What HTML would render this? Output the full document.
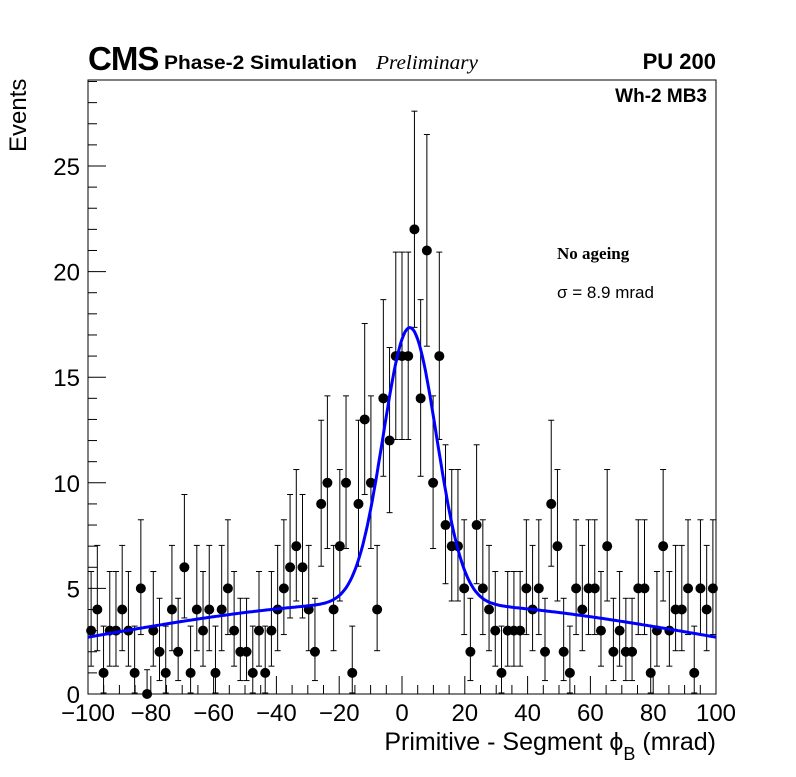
<!DOCTYPE html>
<html><head><meta charset="utf-8"><style>
body{margin:0;background:#fff;}
svg text{font-family:"Liberation Sans",sans-serif;}
</style></head><body>
<svg id="chart" width="796" height="772" xmlns="http://www.w3.org/2000/svg">
<rect width="796" height="772" fill="#fff"/>
<g id="axes"></g><g id="marks"></g>
<text x="88" y="70" font-size="33" font-weight="bold" style="letter-spacing:-1px">CMS</text>
<text x="164" y="69" font-size="19" font-weight="bold" textLength="193" lengthAdjust="spacingAndGlyphs">Phase-2 Simulation</text>
<text x="376" y="69" font-size="20" font-style="italic" textLength="102" lengthAdjust="spacingAndGlyphs" style="font-family:'Liberation Serif',serif">Preliminary</text>
<text x="716" y="69" font-size="22" font-weight="bold" text-anchor="end">PU 200</text>
<text x="707" y="102" font-size="19" font-weight="bold" text-anchor="end">Wh-2 MB3</text>
<text x="557" y="259" font-size="17" font-weight="bold" style="font-family:'Liberation Serif',serif">No ageing</text>
<text x="557" y="298" font-size="17">σ = 8.9 mrad</text>
<text x="716" y="750" font-size="25" text-anchor="end">Primitive - Segment ϕ<tspan font-size="18" dy="10">B</tspan><tspan dy="-10"> (mrad)</tspan></text>
<text transform="translate(26,152) rotate(-90)" font-size="24">Events</text>
</svg>
<script>
const counts=[3,4,1,3,3,4,3,1,5,0,3,2,1,4,2,6,1,4,3,4,1,4,5,3,2,2,1,3,1,3,4,5,6,7,6,4,2,9,10,4,7,10,1,9,13,10,4,14,12,16,16,16,22,14,21,10,16,8,7,7,5,2,8,5,4,3,1,3,3,3,5,4,5,2,9,7,2,1,5,4,5,5,3,7,2,3,2,2,5,5,1,3,7,3,4,4,5,1,5,4,5];
const xTicks=[-100,-80,-60,-40,-20,0,20,40,60,80,100];
const yTicks=[0,5,10,15,20,25];
const fitParams=[13.0,2.5,8.5,4.35,102];
const L=88,R=716,T=80,B=694;
const X=v=>L+(v+100)/200*(R-L);
const Y=v=>B-v*21.12;
const NS='http://www.w3.org/2000/svg';
function mk(t,a,p){const e=document.createElementNS(NS,t);for(const k in a)e.setAttribute(k,a[k]);p.appendChild(e);return e;}
const ax=document.getElementById('axes'),mg=document.getElementById('marks');
const frame=mk('rect',{x:L,y:T,width:R-L,height:B-T,fill:'none',stroke:'#000','stroke-width':1},ax);


for(let v=-100;v<=100;v+=5){const maj=v%20===0;const t=mk('line',{x1:X(v),x2:X(v),y1:B,y2:B-(maj?18:9),stroke:'#000'},ax);

}
xTicks.forEach(v=>{const t=mk('text',{x:X(v),y:721,'font-size':24,'text-anchor':'middle'},ax);t.textContent=(v<0?'\u2212'+(-v):v);

});
for(let v=0;v<=29;v++){const maj=v%5===0;const t=mk('line',{x1:L,x2:L+(maj?18:9),y1:Y(v),y2:Y(v),stroke:'#000'},ax);

}
yTicks.forEach(v=>{const t=mk('text',{x:80,y:Y(v)+9,'font-size':24,'text-anchor':'end'},ax);t.textContent=v;

});
const w=200/counts.length;
counts.forEach((n,i)=>{const c=-100+(i+0.5)*w;const lo=n>0?Math.sqrt(n)-0.05:0;const hi=n>0?Math.sqrt(n+1)+0.8:1.15;
const g=mk('g',{},mg);


mk('line',{x1:X(c),x2:X(c),y1:Y(n+hi),y2:Y(n-lo),stroke:'#000','stroke-width':1},g);
mk('line',{x1:X(c)-3,x2:X(c)+3,y1:Y(n+hi),y2:Y(n+hi),stroke:'#000'},g);
if(lo>0)mk('line',{x1:X(c)-3,x2:X(c)+3,y1:Y(n-lo),y2:Y(n-lo),stroke:'#000'},g);
mk('circle',{cx:X(c),cy:Y(n),r:5,fill:'#000'},g);});
const [A,mu,s,B2,s2]=fitParams;let d='';
for(let x=-100;x<=100;x+=0.5){const y=A*Math.exp(-((x-mu)**2)/(2*s*s))+B2*Math.exp(-(x*x)/(2*s2*s2));d+=(d?'L':'M')+X(x).toFixed(1)+','+Y(y).toFixed(1);}
const fp=mk('path',{d:d,fill:'none',stroke:'#0000ff','stroke-width':3},mg);


</script>
</body></html>
